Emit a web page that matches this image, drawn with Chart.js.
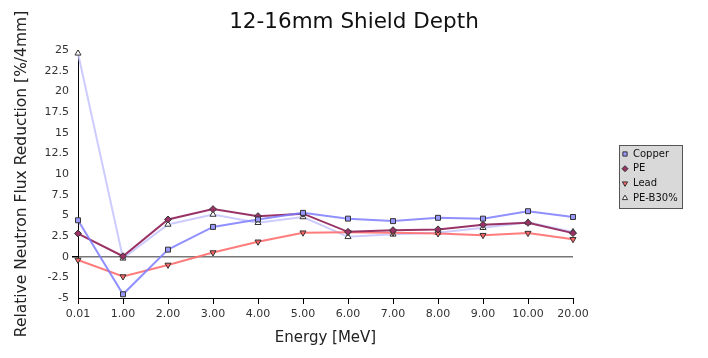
<!DOCTYPE html>
<html>
<head>
<meta charset="utf-8">
<script src="https://cdn.jsdelivr.net/npm/chart.js@4.4.0/dist/chart.umd.min.js"></script>
<style>
html,body{margin:0;padding:0;background:#fff;}
#wrap{width:708px;height:358px;}
</style>
</head>
<body>
<div id="wrap"><canvas id="c" width="708" height="358"></canvas></div>
<script>
const categories = ['0.01','1.00','2.00','3.00','4.00','5.00','6.00','7.00','8.00','9.00','10.00','20.00'];
const copper = [4.4, -4.55, 0.85, 3.6, 4.5, 5.3, 4.6, 4.3, 4.7, 4.6, 5.5, 4.8];
const pe     = [2.8, 0.05, 4.5, 5.75, 4.9, 5.2, 3.0, 3.2, 3.3, 3.85, 4.1, 2.85];
const lead   = [-0.4, -2.4, -1.0, 0.5, 1.8, 2.9, 2.95, 2.9, 2.8, 2.6, 2.85, 2.1];
const peB30  = [24.6, -0.2, 3.9, 5.1, 4.1, 4.8, 2.4, 2.7, 2.9, 3.5, 4.15, 3.0];
const seriesNames = ['Copper','PE','Lead','PE-B30%'];
const yMin = -5, yMax = 25, yStep = 2.5;

const FONT = "'DejaVu Sans', sans-serif";

const legendBox = {
  id: 'legendBox',
  afterDraw(chart) {
    const ctx = chart.ctx;
    const x0 = 619, y0 = 145, w = 63, h = 63;
    ctx.save();
    ctx.fillStyle = '#d9d9d9';
    ctx.fillRect(x0, y0, w, h);
    ctx.strokeStyle = '#555';
    ctx.lineWidth = 1;
    ctx.strokeRect(x0 + 0.5, y0 + 0.5, w, h);
    chart.data.datasets.forEach((ds, i) => {
      const cy = 154 + i * 14.7;
      ctx.fillStyle = ds.pointBackgroundColor;
      ctx.strokeStyle = ds.pointBorderColor;
      ctx.lineWidth = 1;
      Chart.helpers.drawPoint(ctx, {
        pointStyle: ds.pointStyle,
        radius: 3,
        rotation: ds.pointRotation || 0,
        borderWidth: 1
      }, 625, cy);
      ctx.fillStyle = '#111';
      ctx.font = "10px " + FONT;
      ctx.textBaseline = 'middle';
      ctx.textAlign = 'left';
      ctx.fillText(ds.label, 633, cy);
    });
    ctx.restore();
  }
};

function mk(label, data, line, fill, style, rot) {
  return {
    label, data,
    borderColor: line,
    backgroundColor: line,
    borderWidth: 2,
    pointStyle: style,
    pointRotation: rot || 0,
    pointRadius: 3.5,
    pointHoverRadius: 3.5,
    pointBackgroundColor: fill,
    pointBorderColor: '#333',
    pointBorderWidth: 1,
    tension: 0,
    fill: false,
    yAxisID: 'y'
  };
}

new Chart(document.getElementById('c'), {
  type: 'line',
  data: {
    labels: categories,
    datasets: [
      mk(seriesNames[0], copper, 'rgba(125,125,255,0.85)', '#9999ff', 'rect'),
      mk(seriesNames[1], pe, '#993366', '#993366', 'rectRot'),
      mk(seriesNames[2], lead, 'rgba(255,110,110,0.9)', '#ff6666', 'triangle', 180),
      mk(seriesNames[3], peB30, 'rgba(195,195,255,0.85)', '#ffffff', 'triangle')
    ]
  },
  options: {
    responsive: false,
    animation: false,
    devicePixelRatio: 1,
    layout: { padding: 0 },
    plugins: {
      legend: { display: false },
      tooltip: { enabled: false },
      title: {
        display: true,
        text: '12-16mm Shield Depth',
        color: '#111',
        font: { family: FONT, size: 21.5, weight: 'normal' },
        padding: { top: 10, bottom: 14.2 }
      }
    },
    scales: {
      x: {
        type: 'category',
        offset: false,
        border: { display: true, color: '#000', width: 1 },
        grid: { drawOnChartArea: false, drawTicks: true, tickLength: 6, tickColor: '#000' },
        ticks: { color: '#333', font: { family: FONT, size: 11 }, padding: 4, maxRotation: 0, autoSkip: false },
        title: { display: true, text: 'Energy [MeV]', color: '#222', font: { family: FONT, size: 15 }, padding: { top: 2, bottom: 11 } },
        afterFit(s) { s.height = 60; }
      },
      y: {
        min: yMin, max: yMax,
        position: 'left',
        border: { display: true, color: '#000', width: 1 },
        grid: {
          drawOnChartArea: true,
          color: (c) => (c.tick && c.tick.value === 0) ? '#777' : 'rgba(0,0,0,0)',
          lineWidth: (c) => (c.tick && c.tick.value === 0) ? 1.5 : 0,
          tickLength: 6,
          tickColor: '#000'
        },
        ticks: { stepSize: yStep, color: '#333', font: { family: FONT, size: 11 }, padding: 3,
                 callback: (v) => String(v) },
        title: { display: true, text: 'Relative Neutron Flux Reduction [%/4mm]', color: '#222', font: { family: FONT, size: 15.5 }, padding: { top: 13, bottom: 4 } },
        afterFit(s) { s.width = 78; }
      },
      yRight: {
        position: 'right',
        display: true,
        grid: { display: false, drawTicks: false },
        border: { display: false },
        ticks: { display: false },
        afterFit(s) { s.width = 135; }
      }
    }
  },
  plugins: [legendBox]
});
</script>
</body>
</html>
